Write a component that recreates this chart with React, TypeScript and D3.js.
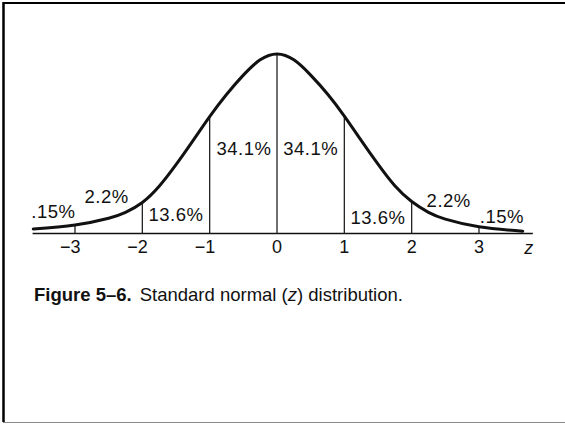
import * as d3 from 'd3'

// curve: [z, density]
const curveZ = [-3.62, -3.0, -2.5, -2.25, -2.0, -1.75, -1.5, -1.25, -1.0, -0.75, -0.5, -0.25, 0,
  0.25, 0.5, 0.75, 1.0, 1.25, 1.5, 1.75, 2.0, 2.25, 2.5, 3.0, 3.65]
const curveDensity = [0.010, 0.019, 0.034, 0.047, 0.069, 0.105, 0.153, 0.206, 0.260, 0.309, 0.352, 0.386, 0.399,
  0.386, 0.352, 0.310, 0.261, 0.207, 0.154, 0.106, 0.071, 0.047, 0.032, 0.015, 0.005]

const ticks = [-3, -2, -1, 0, 1, 2, 3]
const tickLabels = ['−3', '−2', '−1', '0', '1', '2', '3']

// percentage of area in each band, left to right (tails first/last)
const bandLabels = ['.15%', '2.2%', '13.6%', '34.1%', '34.1%', '13.6%', '2.2%', '.15%']
const bandCenters = [-3.32, -2.53, -1.5, -0.49, 0.5, 1.5, 2.55, 3.34]

const W = 565
const H = 424

export default function App() {
  const x = d3.scaleLinear().domain([-3, 3]).range([75, 479])
  const y = d3.scaleLinear().domain([0, 0.399]).range([233.5, 54])

  const pts: [number, number][] = curveZ.map((z, i) => [z, curveDensity[i]])
  const line = d3.line<[number, number]>()
    .x(d => x(d[0]))
    .y(d => y(d[1]))
    .curve(d3.curveNatural)

  const densAt = (z: number) => curveDensity[curveZ.indexOf(z)]

  // baseline (in density units) for each band label
  const labelDens = [0.034, 0.068, 0.028, 0.174, 0.174, 0.022, 0.060, 0.024]

  return (
    <svg width={W} height={H} style={{ position: 'absolute', left: 0, top: 0, background: '#fff' }}
      fontFamily="'Liberation Sans', Arial, sans-serif">
      {/* scan frame */}
      <line x1={3} x2={W} y1={3} y2={3} stroke="#000" strokeWidth={2} />
      <line x1={3.5} x2={3.5} y1={2} y2={H - 2} stroke="#000" strokeWidth={2.5} />
      <line x1={3} x2={W} y1={422.5} y2={422.5} stroke="#888" strokeWidth={1.2} />

      {/* axis */}
      <line x1={x(-3.63)} x2={x(3.8)} y1={y(0)} y2={y(0)} stroke="#111" strokeWidth={1.6} />

      {/* band dividers */}
      {ticks.map(t => (
        <line key={t} x1={x(t)} x2={x(t)} y1={y(0)} y2={y(densAt(t))} stroke="#222" strokeWidth={1.3} />
      ))}

      {/* curve */}
      <path d={line(pts) || ''} fill="none" stroke="#111" strokeWidth={3} strokeLinecap="round" />

      {/* tick labels */}
      {ticks.map((t, i) => (
        <text key={t} x={t < 0 ? x(t) + 5.5 : x(t)} y={253} fontSize={18}
          textAnchor={t < 0 ? 'end' : 'middle'} fill="#111">{tickLabels[i]}</text>
      ))}
      <text x={x(3.74)} y={254} fontSize={18} fontStyle="italic" textAnchor="middle" fill="#111">z</text>

      {/* band percentages */}
      {bandLabels.map((l, i) => (
        <text key={i} x={x(bandCenters[i])} y={y(labelDens[i])} fontSize={18.5} letterSpacing={0.5}
          textAnchor="middle" fill="#111">{l}</text>
      ))}

      {/* caption */}
      <text x={34} y={301} fontSize={18.5} fill="#111">
        <tspan fontWeight="bold">Figure 5–6.</tspan>
        <tspan dx={8}>Standard normal (</tspan>
        <tspan fontStyle="italic">z</tspan>
        <tspan>) distribution.</tspan>
      </text>
    </svg>
  )
}
